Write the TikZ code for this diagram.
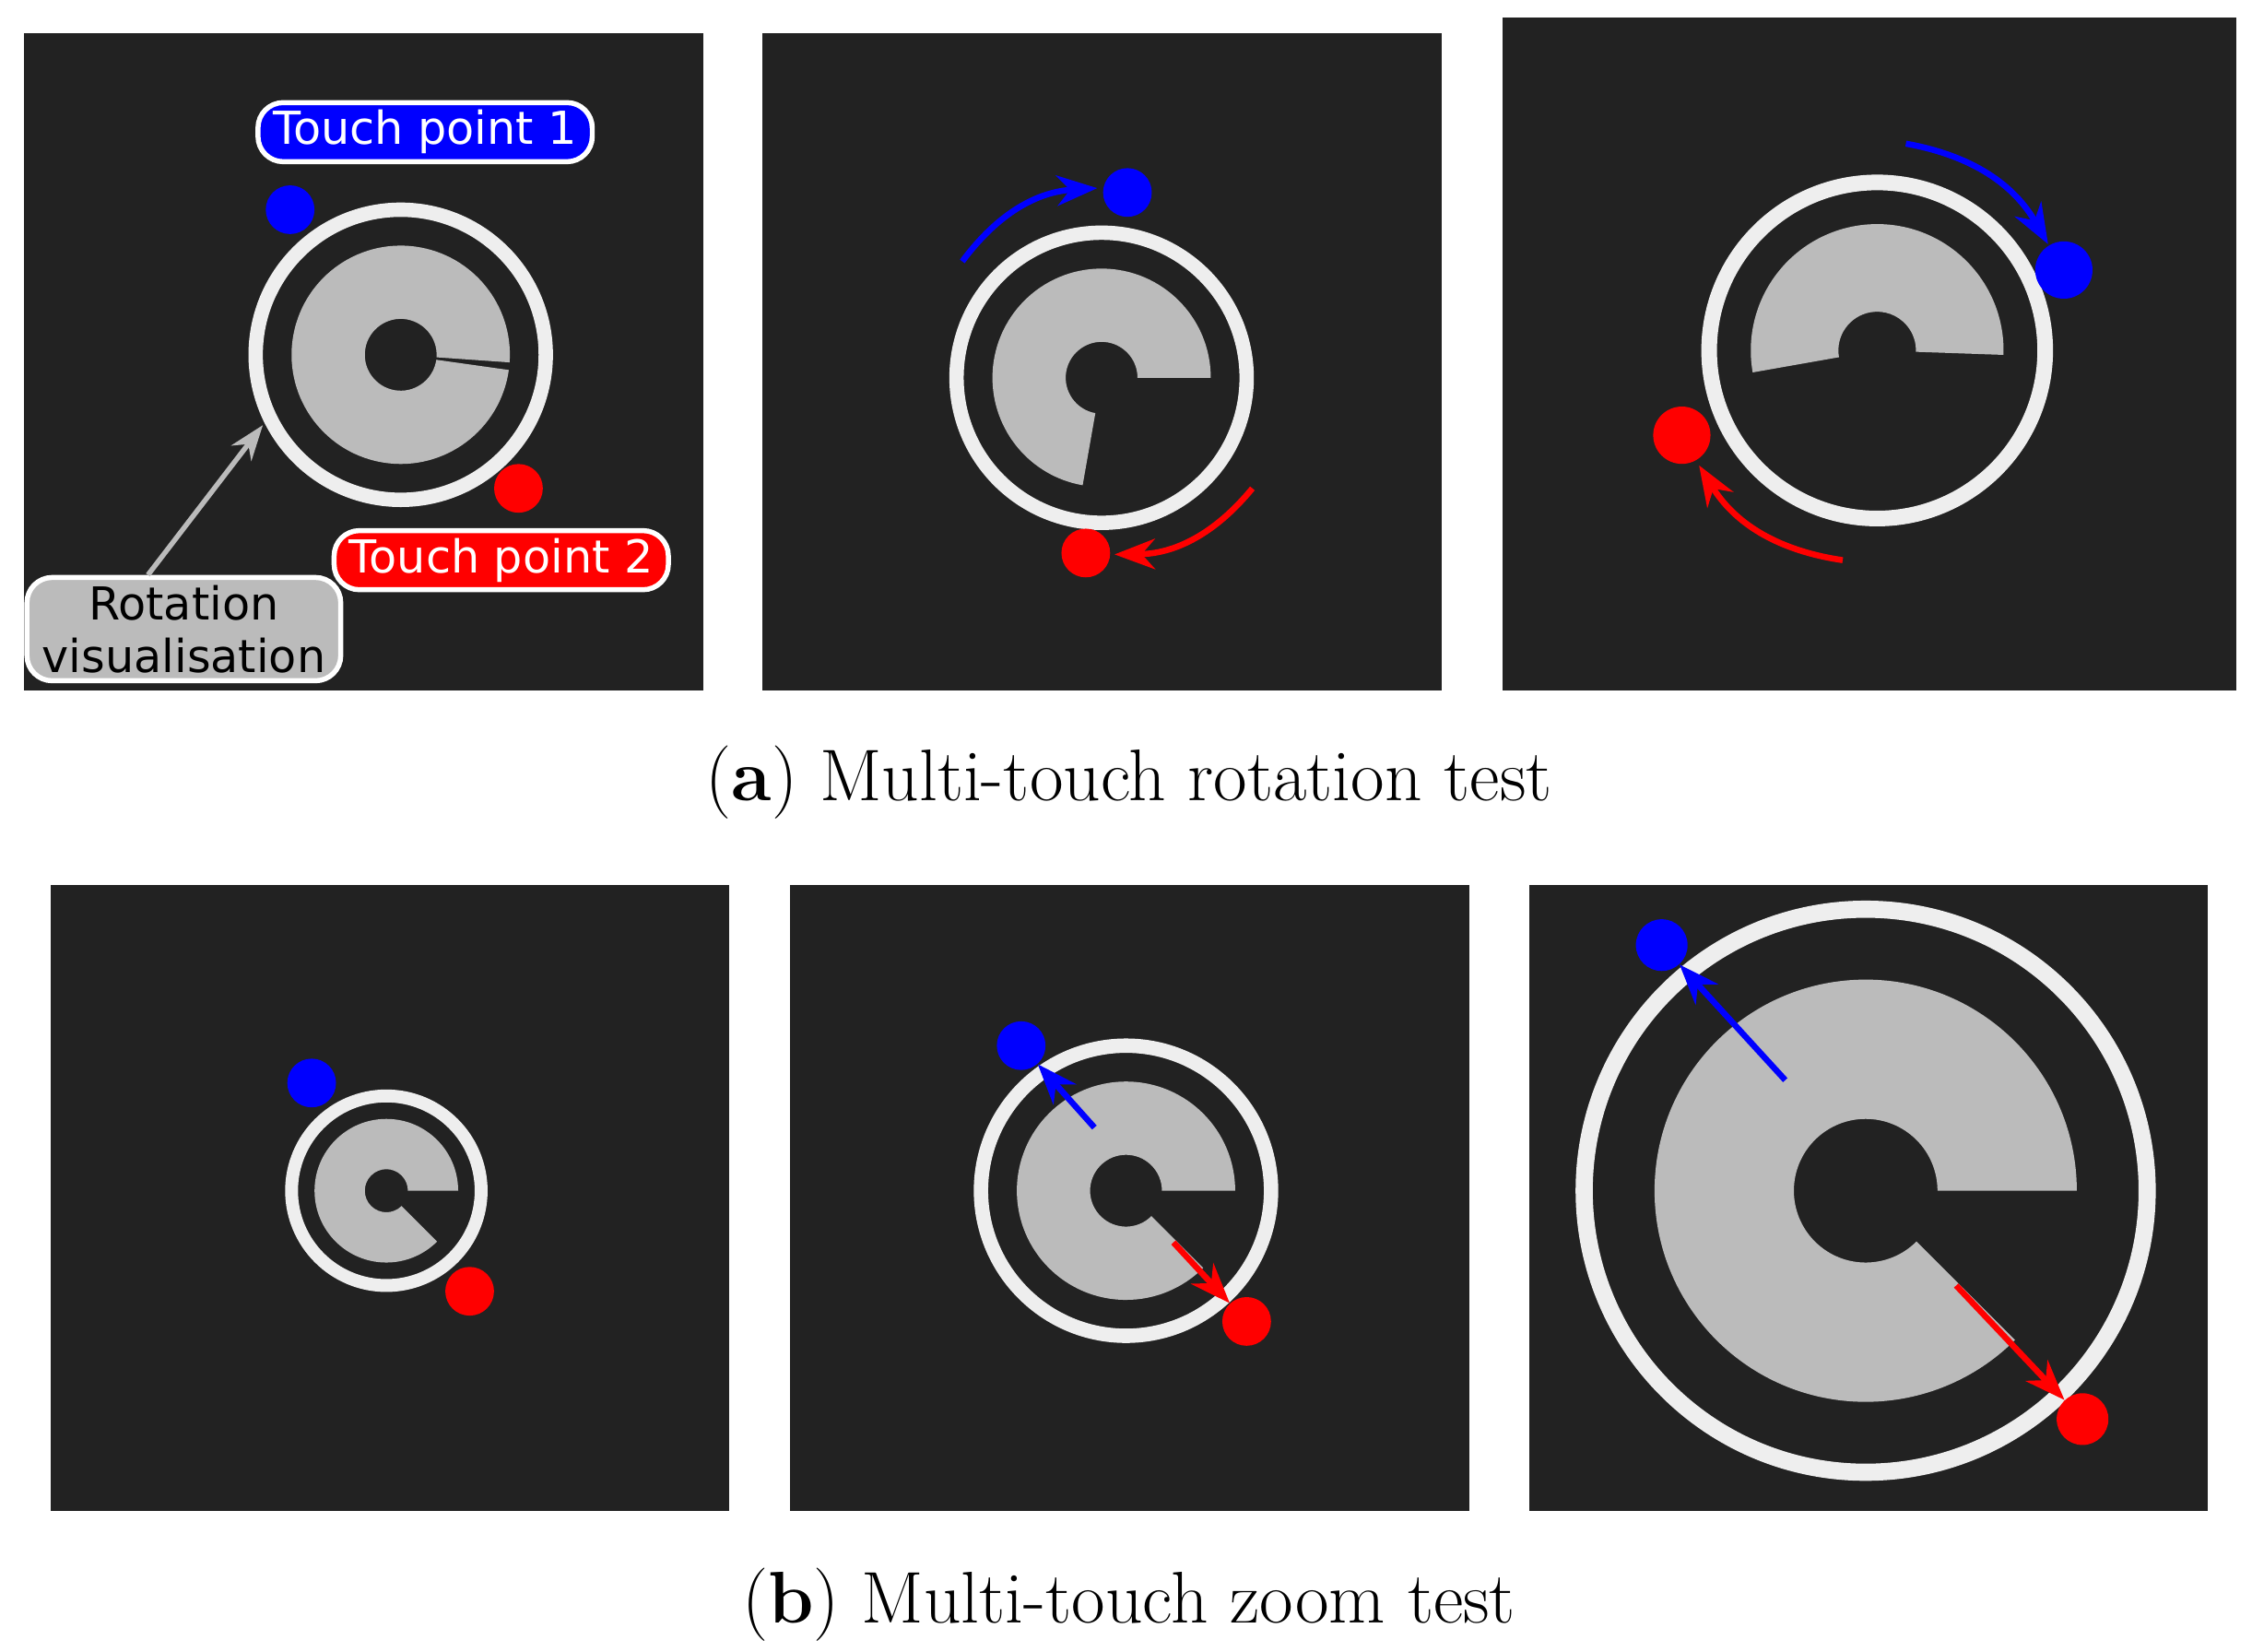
\documentclass[tikz,border=0pt]{standalone}
\usepackage{fontspec}
\newfontfamily\lblfont{DejaVu Sans}
\usetikzlibrary{arrows.meta,calc}
\definecolor{bg}{HTML}{222222}
\definecolor{ringc}{HTML}{EEEEEE}
\definecolor{pac}{HTML}{BBBBBB}
\definecolor{tblue}{HTML}{0000FF}
\definecolor{tred}{HTML}{FF0000}
\tikzset{
 panel/.style={fill=bg,draw=none},
 ring/.style={draw=ringc,line width=#1},
 bdot/.style={circle,fill=tblue,inner sep=0,minimum size=#1},
 rdot/.style={circle,fill=tred,inner sep=0,minimum size=#1},
 barr/.style={draw=tblue,line width=2.4pt,-{Stealth[length=16pt,width=12pt]}},
 rarr/.style={draw=tred,line width=2.4pt,-{Stealth[length=16pt,width=12pt]}},
 lbl/.style={rounded corners=10pt,draw=white,line width=2pt,font=\lblfont\fontsize{18}{21}\selectfont,inner xsep=6pt,inner ysep=3pt},
 captext/.style={font=\fontsize{29}{34}\selectfont}
}
\newcommand{\pacshape}[6]{%
 \fill[pac] (#1,#2) ++(#5:#3) arc[start angle=#5,end angle=#6,radius=#3]
   -- ($(#1,#2)+(#6:#4)$) arc[start angle=#6,end angle=#5,radius=#4] -- cycle;}
\begin{document}
\begin{tikzpicture}[x=0.02cm,y=-0.02cm]
\useasboundingbox (0,0) rectangle (1568,1150);
\fill[panel] (17,23) rectangle (490,481);
\fill[panel] (531,23) rectangle (1004,481);
\fill[panel] (1046,12) rectangle (1557,481);
\fill[panel] (35,616) rectangle (508,1052);
\fill[panel] (550,616) rectangle (1023,1052);
\fill[panel] (1065,616) rectangle (1537,1052);
% panel 1
\draw[ring=5.7pt] (279,247) circle[radius=101];
\pacshape{279}{247}{76}{25}{8}{364}
\node[bdot=19.3pt] (b1) at (202,146) {};
\node[rdot=19.3pt] (r1) at (361,340) {};
\node[lbl,fill=tblue,text=white] (t1) at (296,92) {Touch point 1};
\node[lbl,fill=tred,text=white] (t2) at (349,390) {Touch point 2};
\node[lbl,fill=pac,text=black,align=center,font=\lblfont\fontsize{18}{21}\selectfont] (rv) at (128,438) {Rotation\\visualisation};
\coordinate (rvt) at (183,296);
\draw[draw=pac,line width=2pt,-{Stealth[length=14pt,width=10pt]}] (rv.north) ++(-25,0) -- (rvt);
% panel 2
\draw[ring=5.7pt] (767,263) circle[radius=101];
\pacshape{767}{263}{76}{25}{0}{-260}
\node[bdot=19.3pt] (b2) at (785,134) {};
\node[rdot=19.3pt] (r2) at (756,385) {};
\coordinate (b2s) at (670,182); \coordinate (b2e) at (764,131);
\coordinate (r2s) at (872,340); \coordinate (r2e) at (776,386);
\draw[barr] (b2s) to[bend left=25] (b2e);
\draw[rarr] (r2s) to[bend left=25] (r2e);
% panel 3
\draw[ring=6.2pt] (1307,244) circle[radius=117];
\pacshape{1307}{244}{88}{27}{2}{-190}
\node[bdot=22.7pt] (b3) at (1437,188) {};
\node[rdot=22.7pt] (r3) at (1171,303) {};
\coordinate (b3s) at (1327,100); \coordinate (b3e) at (1426,170);
\coordinate (r3s) at (1283,390); \coordinate (r3e) at (1183,324);
\draw[barr] (b3s) to[bend left=25] (b3e);
\draw[rarr] (r3s) to[bend left=25] (r3e);
% panel 4
\draw[ring=5.1pt] (269,829) circle[radius=66];
\pacshape{269}{829}{50}{15}{0}{-315}
\node[bdot=19.3pt] (b4) at (217,754) {};
\node[rdot=19.3pt] (r4) at (327,899) {};
% panel 5
\draw[ring=5.7pt] (784,829) circle[radius=101];
\pacshape{784}{829}{76}{25}{0}{-315}
\node[bdot=19.3pt] (b5) at (711,728) {};
\node[rdot=19.3pt] (r5) at (868,920) {};
\coordinate (b5s) at (762,785); \coordinate (r5s) at (817,865);
\draw[barr] (b5s) -- (b5);
\draw[rarr] (r5s) -- (r5);
% panel 6
\draw[ring=6.8pt] (1299,829) circle[radius=196];
\pacshape{1299}{829}{147}{50}{0}{-315}
\node[bdot=20.5pt] (b6) at (1157,658) {};
\node[rdot=20.5pt] (r6) at (1450,988) {};
\coordinate (b6s) at (1243,752); \coordinate (r6s) at (1362,895);
\draw[barr] (b6s) -- (b6);
\draw[rarr] (r6s) -- (r6);
% captions
\node[captext] (ca) at (786,545) {(\textbf{a}) Multi-touch rotation test};
\node[captext] (cb) at (786,1117) {(\textbf{b}) Multi-touch zoom test};
\end{tikzpicture}
\end{document}
